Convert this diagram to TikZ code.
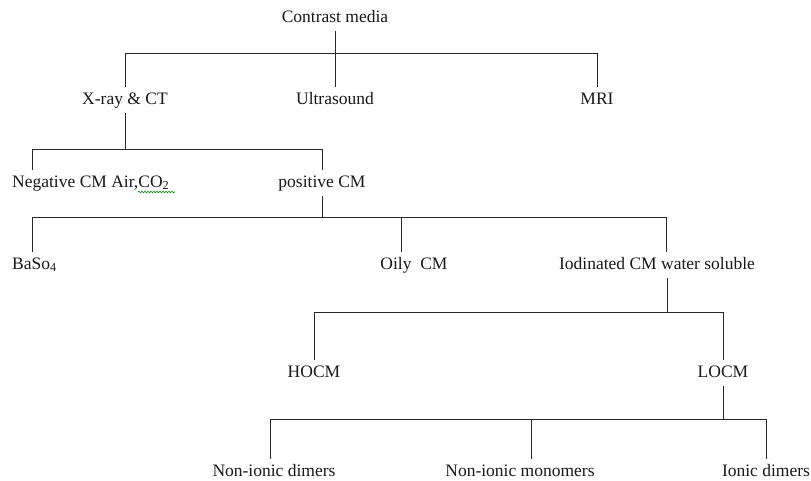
\documentclass[tikz,border=0pt]{standalone}
\usepackage{fontspec}
\setmainfont{Liberation Serif}
\usetikzlibrary{decorations.pathmorphing}
\begin{document}
\begin{tikzpicture}[x=1pt,y=-1pt,
  lbl/.style={inner xsep=0pt,inner ysep=6pt,text height=11pt,text depth=3pt,text={rgb,255:red,25;green,25;blue,25},font=\fontsize{17.5}{20}\selectfont},
  link/.style={draw={rgb,255:red,40;green,40;blue,40},line width=1pt}]
\path[use as bounding box] (0,0) rectangle (811,480);
% labels
\node[lbl] (media) at (335,18) {Contrast media};
\node[lbl] (xray) at (125,100) {X-ray \& CT};
\node[lbl] (us) at (335,100) {Ultrasound};
\node[lbl] (mri) at (597,100) {MRI};
\node[lbl,anchor=west] (neg) at (12,183) {Negative CM Air,CO\textsubscript{2}};
\node[lbl] (pos) at (322,183) {positive CM};
\node[lbl,anchor=west] (baso) at (12,265) {BaSo\textsubscript{4}};
\node[lbl] (oily) at (414,265) {Oily\ \ CM};
\node[lbl] (iod) at (657,265) {Iodinated CM water soluble};
\node[lbl] (hocm) at (314,373) {HOCM};
\node[lbl] (locm) at (723,373) {LOCM};
\node[lbl] (nidim) at (274,472) {Non-ionic dimers};
\node[lbl] (nimono) at (520,472) {Non-ionic monomers};
\node[lbl] (idim) at (766,472) {Ionic dimers};
% spell-check mark
\draw[green!55!black,line width=0.6pt,decorate,decoration={snake,amplitude=0.8pt,segment length=3pt}] (138,192) -- (175,192);
% tree
\draw[link] (media.south) -- (us.north);
\draw[link] (xray.north) -- ++(0,-33) -| (mri.north);
\draw[link] (xray.south) -- ++(0,37);
\draw[link] ([xshift=20pt]neg.north west) -- ++(0,-20) -| (pos.north);
\draw[link] (pos.south) -- ++(0,22);
\draw[link] ([xshift=20pt]baso.north west) -- ++(0,-34) -| ([xshift=9pt]iod.north);
\draw[link] ([xshift=-13pt]oily.north) -- ++(0,-34);
\draw[link] ([xshift=10pt]iod.south) -- ++(0,35);
\draw[link] (hocm.north) -- ++(0,-47) -| (locm.north);
\draw[link] (locm.south) -- ++(0,34);
\draw[link] ([xshift=-4pt]nidim.north) -- ++(0,-39) -| (idim.north);
\draw[link] ([xshift=11pt]nimono.north) -- ++(0,-39);
\end{tikzpicture}
\end{document}
